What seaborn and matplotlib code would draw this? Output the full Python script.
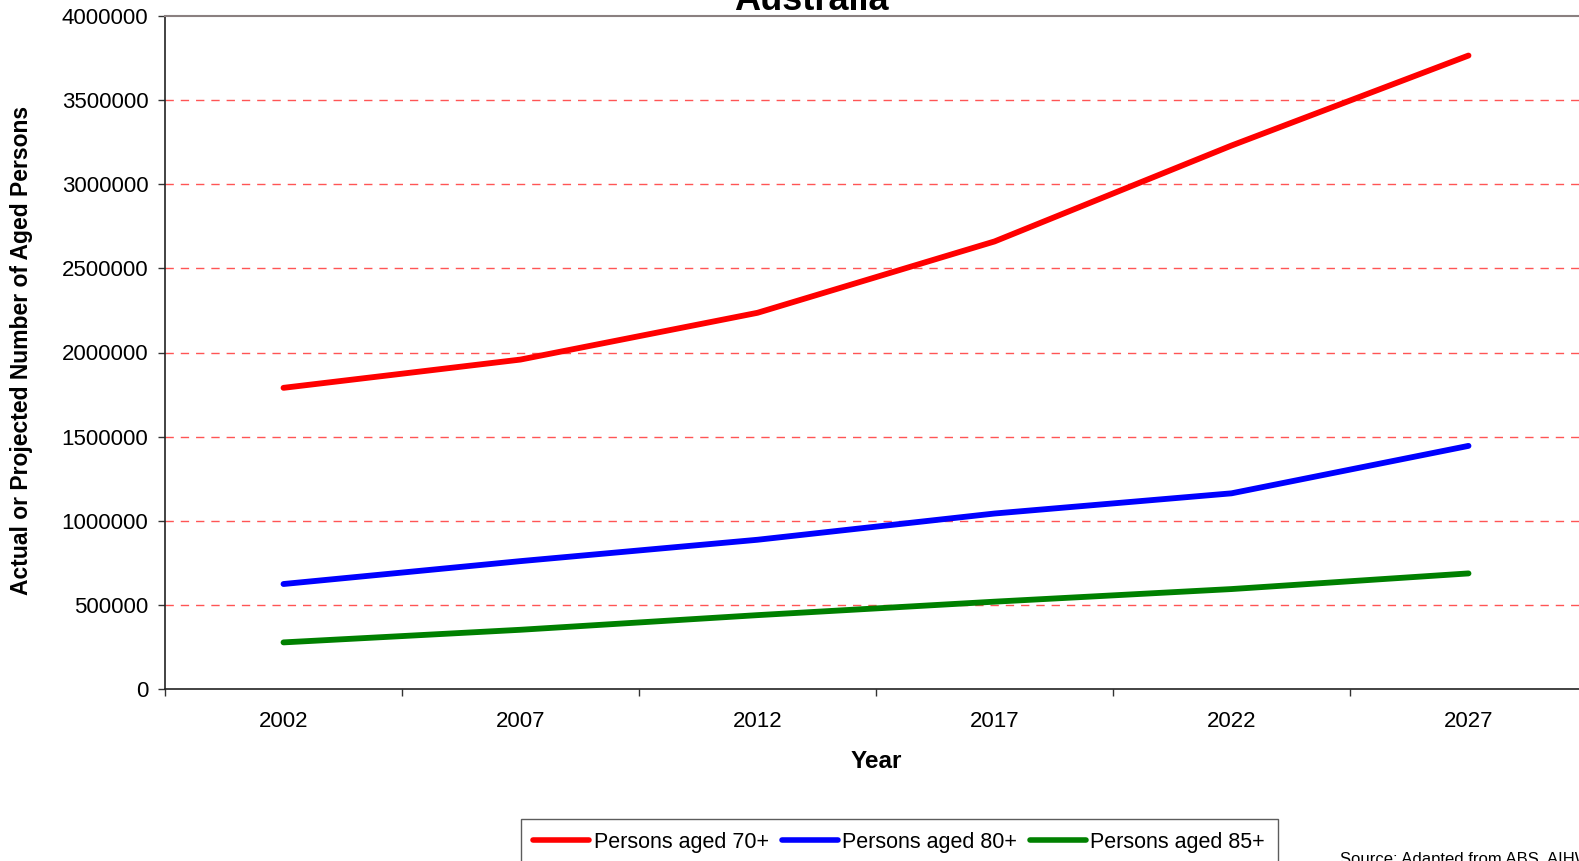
"""Aged persons in Australia, actual and projected, 2002-2027."""

import numpy as np
import pandas as pd
import matplotlib
matplotlib.use("Agg")
import matplotlib.pyplot as plt
import matplotlib.ticker as mticker
import seaborn as sns

# Data -------------------------------------------------------------------------
YEARS = ["2002", "2007", "2012", "2017", "2022", "2027"]
AGED_70 = [1790000, 1958000, 2236000, 2660000, 3230000, 3765000]
AGED_80 = [624000, 760000, 887000, 1043000, 1163000, 1445000]
AGED_85 = [277000, 352000, 439000, 519000, 594000, 687000]
SERIES = ["Persons aged 70+", "Persons aged 80+", "Persons aged 85+"]
PALETTE = {"Persons aged 70+": "#FF0000", "Persons aged 80+": "#0000FF",
           "Persons aged 85+": "#008000"}

# Style ------------------------------------------------------------------------
sns.set_theme(style="white")
plt.rcParams["font.family"] = ["Liberation Sans", "DejaVu Sans"]
plt.rcParams.update({"text.color": "black", "axes.labelcolor": "black",
                     "xtick.color": "black", "ytick.color": "black"})

W, H = 1579, 861
fig = plt.figure(figsize=(W / 100, H / 100), dpi=100)
ax = fig.add_axes([165 / W, 1 - 689 / H, (1587 - 165) / W, (689 - 16) / H])

pos = np.arange(len(YEARS))
df = pd.concat([
    pd.DataFrame({"pos": pos, "value": vals, "series": name})
    for name, vals in zip(SERIES, [AGED_70, AGED_80, AGED_85])
], ignore_index=True)

sns.lineplot(data=df, x="pos", y="value", hue="series", hue_order=SERIES,
             palette=PALETTE, lw=4.2, ax=ax, legend=False,
             solid_capstyle="round")

# axes --------------------------------------------------------------------------
ax.set_xlim(-0.5, len(YEARS) - 0.5)
ax.set_ylim(0, 4000000)
ax.yaxis.set_major_locator(mticker.MultipleLocator(500000))
ax.yaxis.set_major_formatter(mticker.FuncFormatter(lambda v, p: f"{int(v)}"))
ax.set_xticks(pos)
ax.set_xticklabels(YEARS)
ax.set_xticks(np.arange(len(YEARS) + 1) - 0.5, minor=True)
ax.tick_params(axis="x", which="major", length=0, pad=16, labelsize=16)
ax.tick_params(axis="x", which="minor", length=5, width=1, color="#333333",
               direction="out", bottom=True)
ax.tick_params(axis="y", length=5, width=1, color="#333333", direction="out",
               left=True, pad=7, labelsize=16)

for y in np.arange(500000, 4000000, 500000):
    ax.axhline(y, color="#FF5555", lw=1, ls=(0, (6, 5)), zorder=0)

for side in ["left", "bottom"]:
    ax.spines[side].set_color("#222222")
    ax.spines[side].set_linewidth(1.2)
ax.spines["top"].set_color("#8a8080")
ax.spines["top"].set_linewidth(1.5)
ax.spines["right"].set_visible(False)

ax.set_xlabel("Year", fontsize=17.5, fontweight="bold")
ax.xaxis.set_label_coords((876 - 165) / 1422, (689 - 750) / 673)
ax.set_ylabel("Actual or Projected Number of Aged Persons", fontsize=16.5,
              fontweight="bold")
ax.yaxis.set_label_coords((22 - 165) / 1422, (689 - 350) / 673)
ax.yaxis.label.set_va("center")

fig.text(811 / W, 1 - 10 / H, "Australia", ha="center", va="baseline",
         fontsize=26, fontweight="bold")

# legend runs off the bottom edge, as in the original
handles = [plt.Line2D([], [], color=PALETTE[s], lw=4) for s in SERIES]
leg = fig.legend(handles, SERIES, loc="upper center", ncol=3,
                 bbox_to_anchor=(899 / W, 1 - 808 / H), frameon=True,
                 fancybox=False, fontsize=15.5, handlelength=2.6,
                 handletextpad=0.2, columnspacing=0.6, borderpad=0.6)
leg.get_frame().set_edgecolor("#333333")
leg.get_frame().set_linewidth(1)

fig.text(1340 / W, 1 - 852 / H, "Source: Adapted from ABS, AIHW",
         ha="left", va="top", fontsize=12)

fig.savefig("out.png", dpi=100)
